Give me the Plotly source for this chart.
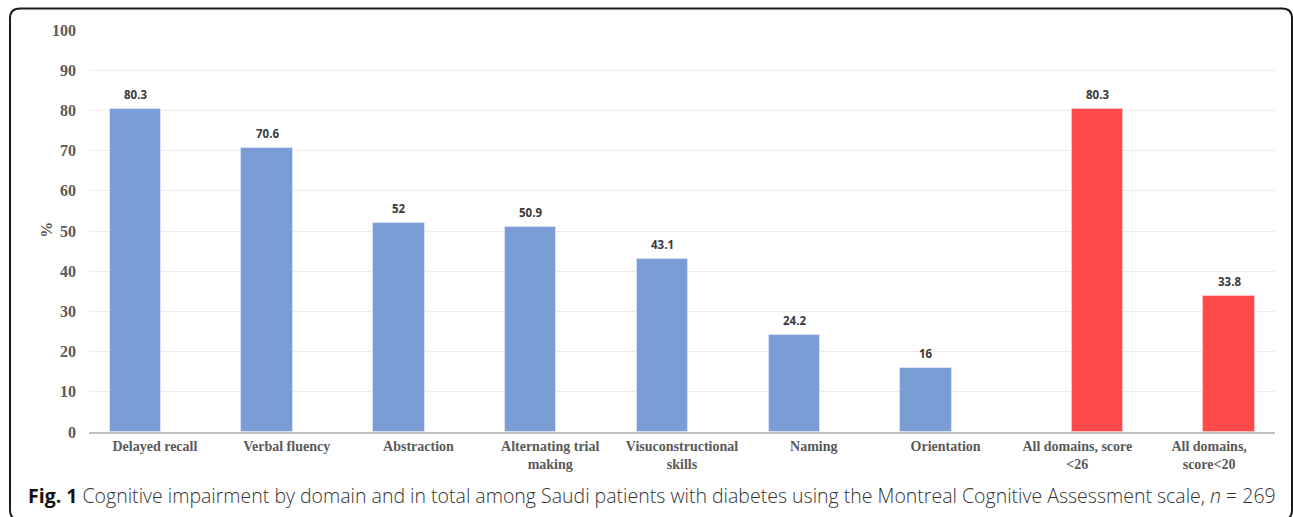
import plotly.graph_objects as go

# Cognitive impairment (%) by MoCA domain
domains = ["Delayed recall", "Verbal fluency", "Abstraction", "Alternating trial<br>making",
           "Visuconstructional<br>skills", "Naming", "Orientation"]
domain_pct = [80.3, 70.6, 52, 50.9, 43.1, 24.2, 16]

# Overall impairment across all domains
totals = ["All domains, score<br><26", "All domains,<br>score<20"]
total_pct = [80.3, 33.8]

categories = domains + totals
y_ticks = list(range(0, 101, 10))

W, H = 1293, 517
ML, MR, MT, MB = 89, 18, 29.5, 85
PW, PH = W - ML - MR, H - MT - MB


def px(x):
    return (x - ML) / PW


def py(y):
    return (H - MB - y) / PH


BLUE = "rgb(122,157,214)"
RED = "rgb(255,74,74)"
BAR_W = 0.39
BLUE_OFF = -0.343
RED_OFF = -0.044

x_dom = list(range(len(domains)))
x_tot = list(range(len(domains), len(categories)))

fig = go.Figure()
fig.add_trace(go.Bar(x=x_dom, y=domain_pct, width=BAR_W, offset=BLUE_OFF,
                     marker=dict(color=BLUE, line=dict(color="rgba(220,230,250,0.8)", width=1)),
                     hoverinfo="y"))
fig.add_trace(go.Bar(x=x_tot, y=total_pct, width=BAR_W, offset=RED_OFF,
                     marker=dict(color=RED, line=dict(color="rgba(255,200,200,0.8)", width=1)),
                     hoverinfo="y"))

label_font = dict(family="Open Sans", size=11.5, color="#3a3a3a", weight="bold")
annotations = []
for xs, vals, off in ((x_dom, domain_pct, BLUE_OFF), (x_tot, total_pct, RED_OFF)):
    for x, v in zip(xs, vals):
        annotations.append(dict(x=x + off + BAR_W / 2, y=v, xref="x", yref="y",
                                text=f"{v:g}", showarrow=False, yanchor="bottom",
                                yshift=5, font=label_font))

# y-axis title
annotations.append(dict(x=px(36), y=py(230), xref="paper", yref="paper", text="%",
                        textangle=-90, showarrow=False,
                        font=dict(family="Liberation Serif", size=16, color="#595959", weight="bold")))

# figure caption
annotations.append(dict(
    x=px(26), y=py(496), xref="paper", yref="paper", xanchor="left", yanchor="middle",
    showarrow=False, align="left",
    text="<b style='font-weight:700;color:#111111'>Fig. 1</b> Cognitive impairment by domain and in total among "
         "Saudi patients with diabetes using the Montreal Cognitive Assessment scale, "
         "<i>n</i> = 269",
    font=dict(family="Open Sans", size=19.5, color="#333333", weight=300)))

# rounded frame around the figure
x0, x1, y0, y1, r = px(10), px(1292), py(8), py(520), 10
rx, ry = r / PW, r / PH
frame = (f"M {x0 + rx},{y0} L {x1 - rx},{y0} Q {x1},{y0} {x1},{y0 - ry} "
         f"L {x1},{y1 + ry} Q {x1},{y1} {x1 - rx},{y1} "
         f"L {x0 + rx},{y1} Q {x0},{y1} {x0},{y1 + ry} "
         f"L {x0},{y0 - ry} Q {x0},{y0} {x0 + rx},{y0} Z")

fig.update_layout(
    width=W, height=H,
    margin=dict(l=ML, r=MR, t=MT, b=MB, autoexpand=False),
    paper_bgcolor="white", plot_bgcolor="white",
    showlegend=False, bargap=0,
    annotations=annotations,
    shapes=[dict(type="path", path=frame, xref="paper", yref="paper",
                 line=dict(color="#1a1a1a", width=2), layer="above")],
    xaxis=dict(range=[-0.5, len(categories) - 0.5], tickvals=list(range(len(categories))),
               ticktext=categories, showgrid=False, zeroline=False,
               showline=True, linecolor="#bfbfbf", linewidth=2, ticks="",
               tickfont=dict(family="Liberation Serif", size=14, color="#595959", weight="bold")),
    yaxis=dict(range=[0, 100], tickvals=y_ticks, showgrid=True, gridcolor="#ececec",
               gridwidth=1, zeroline=False, showline=False, ticks="",
               ticklabelstandoff=12,
               tickfont=dict(family="Liberation Serif", size=16, color="#595959", weight="bold")),
)

fig.write_html("out.html")
